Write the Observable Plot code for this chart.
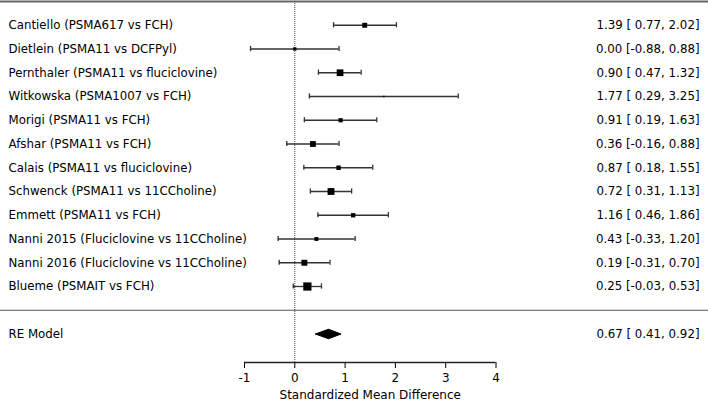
<!DOCTYPE html>
<html>
<head>
<meta charset="utf-8">
<script src="https://cdn.jsdelivr.net/npm/d3@7"></script>
<script src="https://cdn.jsdelivr.net/npm/@observablehq/plot@0.6"></script>
<style>
  html, body { margin: 0; padding: 0; background: #fff; }
  #chart svg { display: block; }
</style>
</head>
<body>
<div id="chart"></div>
<script>
const studies = [
  "Cantiello (PSMA617 vs FCH)",
  "Dietlein (PSMA11 vs DCFPyl)",
  "Pernthaler (PSMA11 vs fluciclovine)",
  "Witkowska (PSMA1007 vs FCH)",
  "Morigi (PSMA11 vs FCH)",
  "Afshar (PSMA11 vs FCH)",
  "Calais (PSMA11 vs fluciclovine)",
  "Schwenck (PSMA11 vs 11CCholine)",
  "Emmett (PSMA11 vs FCH)",
  "Nanni 2015 (Fluciclovine vs 11CCholine)",
  "Nanni 2016 (Fluciclovine vs 11CCholine)",
  "Blueme (PSMAIT vs FCH)"
];
const estimate = [1.39, 0.00, 0.90, 1.77, 0.91, 0.36, 0.87, 0.72, 1.16, 0.43, 0.19, 0.25];
const lower    = [0.77, -0.88, 0.47, 0.29, 0.19, -0.16, 0.18, 0.31, 0.46, -0.33, -0.31, -0.03];
const upper    = [2.02, 0.88, 1.32, 3.25, 1.63, 0.88, 1.55, 1.13, 1.86, 1.20, 0.70, 0.53];
// estimated study weights (%) in the random-effects model
const weight   = [8.2, 5.5, 11.2, 2.5, 7.0, 9.7, 7.4, 11.4, 7.2, 6.5, 9.9, 13.7];

const summaryLabel = "RE Model";
const summaryEstimate = 0.67;
const summaryLower = 0.41;
const summaryUpper = 0.92;

const xTicks = [-1, 0, 1, 2, 3, 4];
const axisTitle = "Standardized Mean Difference";

// ---- layout helpers ----
const k = studies.length;
const topRow = -1;
const sepRow = k;            // separator line
const reRow = k + 1;         // RE model row
const axisRow = k + 2.2;     // axis line
const xMin = xTicks[0], xMax = xTicks[xTicks.length - 1];

const fmtLo = v => (v < 0 ? "" : " ") + v.toFixed(2);
const ciText = (e, l, u) => `${e.toFixed(2)} [${fmtLo(l)}, ${u.toFixed(2)}]`;

const rows = studies.map((s, i) => ({
  label: s, est: estimate[i], lo: lower[i], hi: upper[i], w: weight[i], row: i,
  text: ciText(estimate[i], lower[i], upper[i])
}));
const summary = [{label: summaryLabel, row: reRow, est: summaryEstimate, lo: summaryLower, hi: summaryUpper,
  text: ciText(summaryEstimate, summaryLower, summaryUpper)}];
const dh = 0.2;
const diamond = [
  {x: summaryLower, y: reRow},
  {x: summaryEstimate, y: reRow - dh},
  {x: summaryUpper, y: reRow},
  {x: summaryEstimate, y: reRow + dh},
  {x: summaryLower, y: reRow}
];
const cap = 0.11;
const ink = "#000";
const lineInk = "#333";

const chart = Plot.plot({
  width: 708,
  height: 403,
  marginTop: 1,
  marginBottom: 41,
  marginLeft: 0,
  marginRight: 0,
  style: {fontFamily: "'DejaVu Sans', sans-serif", fontSize: "12px", background: "#fff", color: ink},
  x: {domain: [xMin, xMax], range: [244, 495.5], ticks: xTicks, tickSize: 6, tickPadding: 5,
      tickFormat: d => String(d), label: null},
  y: {domain: [topRow, axisRow], reverse: true, axis: null},
  r: {type: "linear", domain: [0, 100], range: [0, 60 / Math.sqrt(Math.PI)]},
  marks: [
    // top border and separator
    Plot.ruleY([topRow], {stroke: "#666", strokeWidth: 2}),
    Plot.ruleY([sepRow], {stroke: "#555", strokeWidth: 1.2}),
    // null line
    Plot.ruleX([0], {y1: topRow, y2: axisRow, stroke: "#444", strokeWidth: 1, strokeDasharray: "1,1"}),
    // axis line
    Plot.ruleY([axisRow], {x1: xMin, x2: xMax, stroke: "#222", strokeWidth: 1.3}),
    // confidence intervals
    Plot.ruleY(rows, {y: "row", x1: "lo", x2: "hi", stroke: lineInk, strokeWidth: 1.3}),
    Plot.ruleX(rows, {x: "lo", y1: d => d.row - cap, y2: d => d.row + cap, stroke: lineInk, strokeWidth: 1.3}),
    Plot.ruleX(rows, {x: "hi", y1: d => d.row - cap, y2: d => d.row + cap, stroke: lineInk, strokeWidth: 1.3}),
    // weighted squares
    Plot.dot(rows, {x: "est", y: "row", r: "w", symbol: "square", fill: "#000", stroke: "none"}),
    // summary diamond
    Plot.line(diamond, {x: "x", y: "y", fill: "#000", stroke: "#000", strokeWidth: 1}),
    // left labels
    Plot.text(rows.concat(summary), {y: "row", text: "label", frameAnchor: "left", dx: 8,
      textAnchor: "start", fill: ink, fontSize: 11.8}),
    // right CI texts
    Plot.text(rows.concat(summary), {y: "row", text: "text", frameAnchor: "right", dx: -9,
      textAnchor: "end", fill: ink, fontSize: 11.8}),
    // axis title
    Plot.text([axisTitle], {x: () => (xMin + xMax) / 2, frameAnchor: "bottom", dy: 36,
      text: d => d, fill: ink, fontSize: 12})
  ]
});
document.getElementById("chart").appendChild(chart);
</script>
</body>
</html>
